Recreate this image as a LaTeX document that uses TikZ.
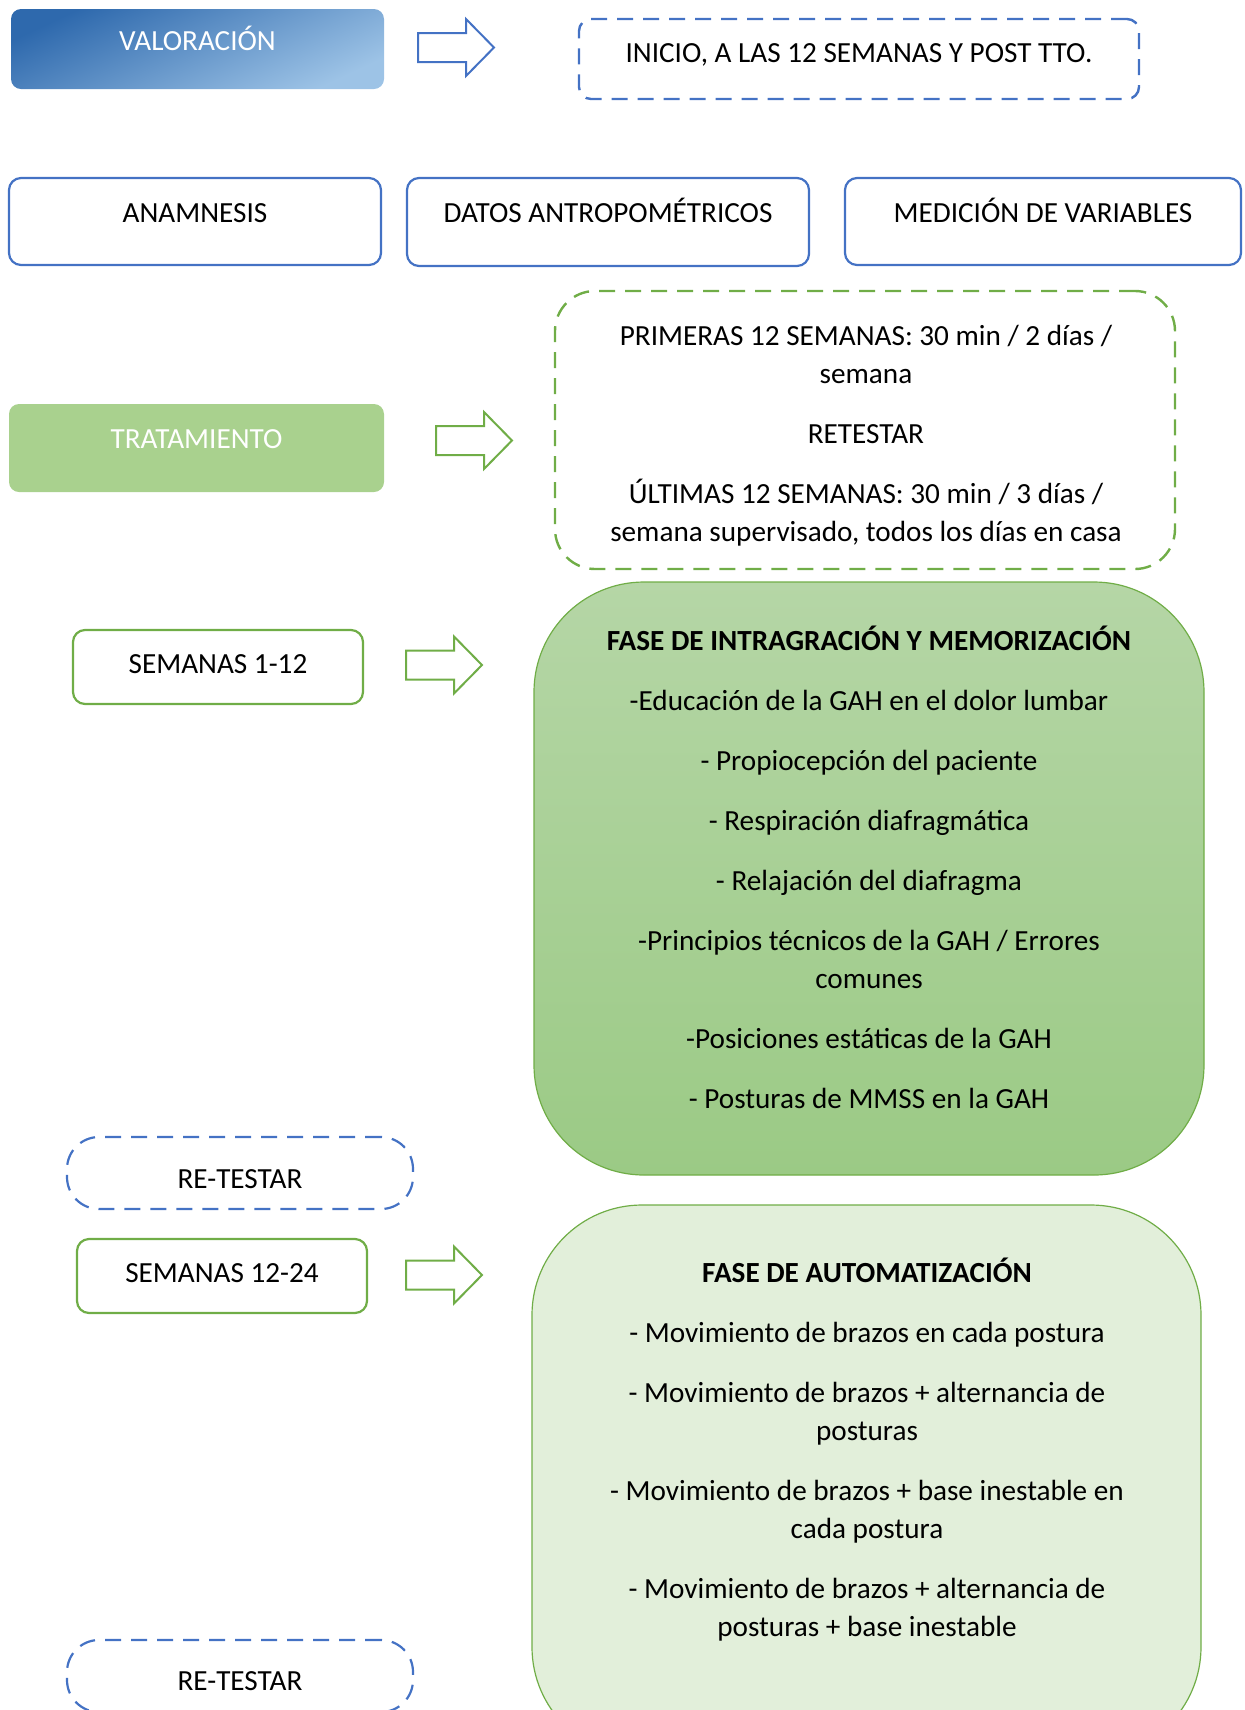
\documentclass[tikz,border=0pt]{standalone}
\usepackage{fontspec}
\setmainfont{Carlito}

\definecolor{bluebd}{HTML}{4472C4}
\definecolor{greenbd}{HTML}{70AD47}
\definecolor{valdark}{HTML}{2E69AD}
\definecolor{vallight}{HTML}{9DC3E6}
\definecolor{tratfill}{HTML}{A9D18E}
\definecolor{fasetop}{HTML}{B5D6A6}
\definecolor{fasebot}{HTML}{9BCA85}
\definecolor{fasedos}{HTML}{E2EFDA}

\tikzset{
  caja/.style={draw=bluebd, line width=1.1pt, rounded corners=6pt, inner sep=0pt},
  cajav/.style={draw=greenbd, line width=1.1pt, rounded corners=6pt, inner sep=0pt},
  discont/.style={dash pattern=on 8pt off 5pt},
  texto/.style={font=\fontsize{14.6}{19}\selectfont, align=center, anchor=base, inner sep=0pt},
  flecha/.pic={\draw[pic actions] (0,-14.5) -- (48,-14.5) -- (48,-28.5) -- (76,0)
     -- (48,28.5) -- (48,14.5) -- (0,14.5) -- cycle;}
}

\begin{document}
\begin{tikzpicture}[x=0.5pt, y=-0.5pt]
\useasboundingbox (0,0) rectangle (1244,1710);
\clip (0,0) rectangle (1244,1710);

% Valoracion
\node [inner sep=0pt, rounded corners=5pt, top color=valdark, bottom color=vallight, shading angle=25,
  minimum width=186.5pt, minimum height=40pt] (val) at (197.5,49) {};
\node [texto, text=white] (valtxt) at (197.5,50) {VALORACIÓN};
\pic [draw=bluebd, line width=1pt] at (418,47.5) {flecha};
\node [caja, discont, line width=1.2pt, minimum width=280pt, minimum height=40pt] (inicio) at (859,59) {};
\node [texto] (iniciotxt) at (859,62) {INICIO, A LAS 12 SEMANAS Y POST TTO.};

% Tres cajas
\node [caja, minimum width=186pt, minimum height=43.5pt] (anam) at (195,221.5) {};
\node [texto] (anamtxt) at (195,222) {ANAMNESIS};
\node [caja, minimum width=201pt, minimum height=44pt] (datos) at (608,222) {};
\node [texto] (datostxt) at (608,222) {DATOS ANTROPOMÉTRICOS};
\node [caja, minimum width=198pt, minimum height=43.5pt] (medic) at (1043,221.5) {};
\node [texto] (medictxt) at (1043,222) {MEDICIÓN DE VARIABLES};

% Tratamiento
\node [fill=tratfill, inner sep=0pt, rounded corners=5pt, minimum width=187.5pt, minimum height=44pt] (trat) at (196.5,448) {};
\node [texto, text=white] (trattxt) at (196.5,448) {TRATAMIENTO};
\pic [draw=greenbd, line width=1pt] at (436,440.5) {flecha};
\node [cajav, discont, line width=1.2pt, rounded corners=20pt, minimum width=310pt, minimum height=139pt] (prim) at (865,430) {};
% (base = ultima linea)
\node [texto] (primtxt) at (866,541) {PRIMERAS 12 SEMANAS: 30 min / 2 días /\\
semana\\[11pt]
RETESTAR\\[11pt]
ÚLTIMAS 12 SEMANAS: 30 min / 3 días /\\
semana supervisado, todos los días en casa};

% Semanas 1-12
\node [cajav, minimum width=145pt, minimum height=37pt] (sem1) at (218,667) {};
\node [texto] (sem1txt) at (218,673) {SEMANAS 1-12};
\pic [draw=greenbd, line width=1pt] at (406,665) {flecha};
\node [draw=greenbd, line width=0.6pt, rounded corners=55pt, top color=fasetop, bottom color=fasebot,
  minimum width=335pt, minimum height=296.5pt] (fase1) at (869,878.5) {};
\node [texto] (fase1txt) at (869,1108) {\textbf{FASE DE INTRAGRACIÓN Y MEMORIZACIÓN}\\[11pt]
-Educación de la GAH en el dolor lumbar\\[11pt]
- Propiocepción del paciente\\[11pt]
- Respiración diafragmática\\[11pt]
- Relajación del diafragma\\[11pt]
-Principios técnicos de la GAH / Errores\\
comunes\\[11pt]
-Posiciones estáticas de la GAH\\[11pt]
- Posturas de MMSS en la GAH};

% Re-testar
\node [caja, discont, rounded corners=16pt, minimum width=173pt, minimum height=36pt] (ret1) at (240,1173) {};
\node [texto] (ret1txt) at (240,1188) {RE-TESTAR};

% Semanas 12-24
\node [cajav, minimum width=145pt, minimum height=37pt] (sem2) at (222,1276) {};
\node [texto] (sem2txt) at (222,1282) {SEMANAS 12-24};
\pic [draw=greenbd, line width=1pt] at (406,1275) {flecha};
\node [draw=greenbd, line width=0.6pt, rounded corners=55pt, fill=fasedos,
  minimum width=334.5pt, minimum height=276pt] (fase2) at (866.5,1481) {};
\node [texto] (fase2txt) at (867,1636) {\textbf{FASE DE AUTOMATIZACIÓN}\\[11pt]
- Movimiento de brazos en cada postura\\[11pt]
- Movimiento de brazos + alternancia de\\
posturas\\[11pt]
- Movimiento de brazos + base inestable en\\
cada postura\\[11pt]
- Movimiento de brazos + alternancia de\\
posturas + base inestable};

% Re-testar final
\node [caja, discont, rounded corners=16pt, minimum width=173pt, minimum height=36pt] (ret2) at (240,1676) {};
\node [texto] (ret2txt) at (240,1690) {RE-TESTAR};
\end{tikzpicture}
\end{document}
